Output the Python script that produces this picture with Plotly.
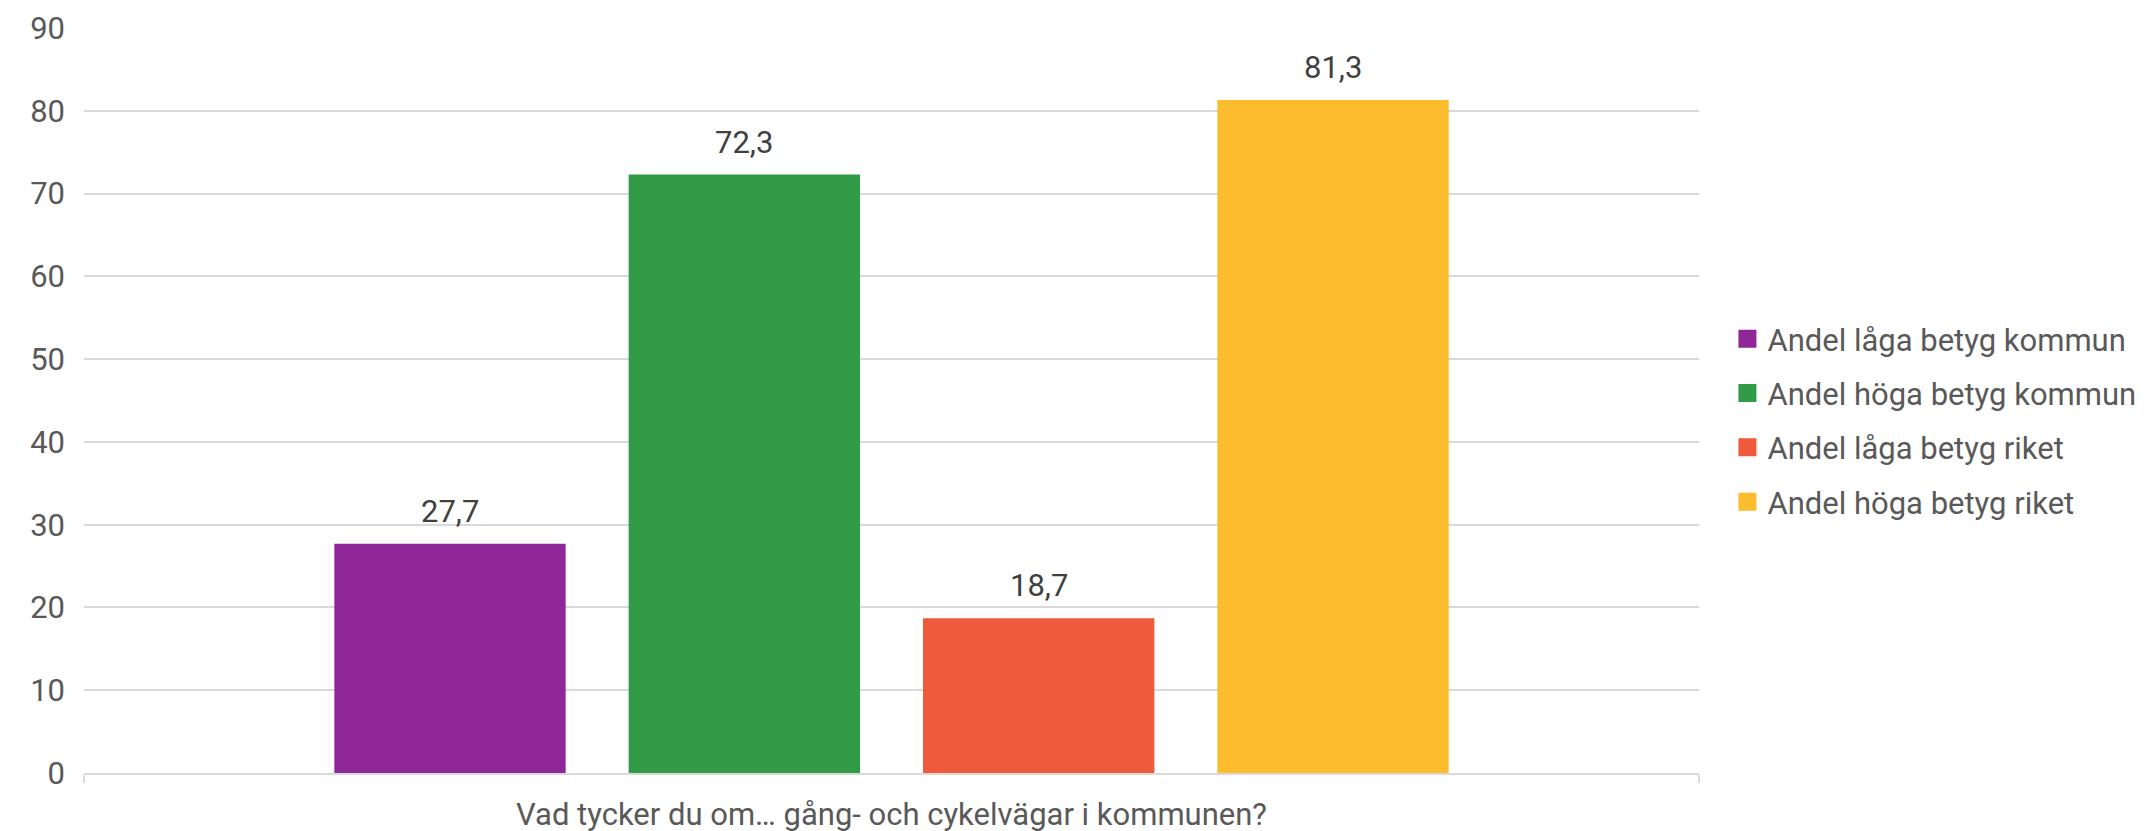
import plotly.graph_objects as go

category = ["Vad tycker du om… gång- och cykelvägar i kommunen?"]
series_names = ["Andel låga betyg kommun", "Andel höga betyg kommun",
                "Andel låga betyg riket", "Andel höga betyg riket"]
series_values = [[27.7], [72.3], [18.7], [81.3]]
colors = ["#8F2799", "#329B47", "#EF5A3C", "#FDBC2E"]
y_ticks = [0, 10, 20, 30, 40, 50, 60, 70, 80, 90]

FONT = "Roboto"
FS = 31
BARGAP = 0.271
BARGROUPGAP = 0.214

fig = go.Figure()
n = len(series_names)
slot = (1 - BARGAP) / n
for i, (name, vals, col) in enumerate(zip(series_names, series_values, colors)):
    fig.add_trace(go.Bar(
        x=category, y=vals, name=name, showlegend=False,
        marker=dict(color=col, line=dict(width=0)),
    ))
    # value labels above each bar (placed at the bar's centre in category units)
    for ci, v in enumerate(vals):
        xc = ci - (1 - BARGAP) / 2 + slot * (i + 0.5)
        fig.add_annotation(
            x=xc, y=v, xref="x", yref="y",
            text=f"{v:.1f}".replace(".", ","),
            showarrow=False, yanchor="bottom", xanchor="center", yshift=12,
            font=dict(family=FONT, size=FS, color="#404040"),
        )
# legend entries (square swatches)
for i, (name, col) in enumerate(zip(series_names, colors)):
    fig.add_trace(go.Scatter(
        x=[None], y=[None], mode="markers", name=name,
        legendgroup=f"g{i}",
        marker=dict(symbol="square", size=16, color=col,
                    line=dict(color=col, width=2)),
    ))

fig.update_layout(
    width=2151, height=831,
    paper_bgcolor="white", plot_bgcolor="white",
    margin=dict(l=76, r=460, t=20, b=66),
    barmode="group", bargap=BARGAP, bargroupgap=BARGROUPGAP,
    font=dict(family=FONT, size=FS, color="#595959"),
    legend=dict(x=1.0176, xanchor="left", y=0.473, yanchor="middle",
                font=dict(family=FONT, size=FS, color="#595959"),
                itemsizing="trace", tracegroupgap=11, traceorder="grouped"),
    yaxis=dict(range=[0, 90], tickvals=y_ticks, showgrid=True,
               gridcolor="#D9D9D9", gridwidth=2, zeroline=False,
               showline=False, ticks="", ticklabelstandoff=18,
               automargin=False,
               tickfont=dict(family=FONT, size=FS, color="#595959")),
    xaxis=dict(showline=True, linecolor="#D9D9D9", linewidth=2,
               ticks="outside", tickson="boundaries", ticklen=8,
               tickcolor="#D9D9D9", tickwidth=2, ticklabelstandoff=13,
               automargin=False, range=[-0.5, 0.5],
               tickfont=dict(family=FONT, size=FS, color="#595959")),
    showlegend=True,
)

fig.write_html("out.html")
